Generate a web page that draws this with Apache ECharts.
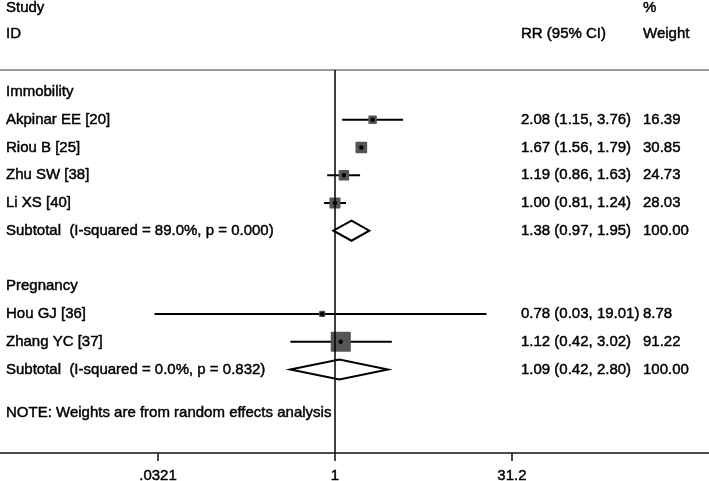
<!DOCTYPE html>
<html>
<head>
<meta charset="utf-8">
<script src="https://cdn.jsdelivr.net/npm/echarts@6/dist/echarts.min.js"></script>
<style>
  html, body { margin: 0; padding: 0; background: #fff; }
  #chart { width: 709px; height: 481px; }
</style>
</head>
<body>
<div id="chart"></div>
<script>
// 数据
const groups = ['Immobility', 'Pregnancy'];
const studies = ['Akpinar EE [20]', 'Riou B [25]', 'Zhu SW [38]', 'Li XS [40]', 'Hou GJ [36]', 'Zhang YC [37]'];
const studyGroup = [0, 0, 0, 0, 1, 1];
const rr = [2.08, 1.67, 1.19, 1.00, 0.78, 1.12];
const rrLow = [1.15, 1.56, 0.86, 0.81, 0.03, 0.42];
const rrHigh = [3.76, 1.79, 1.63, 1.24, 19.01, 3.02];
const weights = [16.39, 30.85, 24.73, 28.03, 8.78, 91.22];
const subRR = [1.38, 1.09];
const subLow = [0.97, 0.42];
const subHigh = [1.95, 2.80];
const subWeight = [100.00, 100.00];
const iSquared = ['89.0%', '0.0%'];
const pHet = ['0.000', '0.832'];
const tickValues = [0.0321, 1, 31.2];
const tickLabels = ['.0321', '1', '31.2'];

const FONT = '15px "Liberation Sans", Arial, sans-serif';
const f2 = v => v.toFixed(2);

// 组装行：组名、研究、小计、空行
const rows = [];
groups.forEach((g, gi) => {
  if (gi > 0) rows.push({ kind: 'blank' });
  rows.push({ kind: 'group', label: g });
  studies.forEach((s, i) => {
    if (studyGroup[i] !== gi) return;
    rows.push({ kind: 'study', label: s, est: rr[i], lo: rrLow[i], hi: rrHigh[i], w: weights[i] });
  });
  rows.push({
    kind: 'sub',
    label: 'Subtotal  (I-squared = ' + iSquared[gi] + ', p = ' + pHet[gi] + ')',
    est: subRR[gi], lo: subLow[gi], hi: subHigh[gi], w: subWeight[gi]
  });
});

function txt(text, x, y) {
  return {
    type: 'text',
    style: { text: text, x: x, y: y, font: FONT, fill: '#000', stroke: '#000', lineWidth: 0.45, verticalAlign: 'middle' }
  };
}

function renderRow(params, api) {
  const r = rows[params.dataIndex];
  const cs = params.coordSys;
  const y = api.coord([0, api.value(1)])[1];
  const children = [];
  if (r.kind === 'blank') return { type: 'group', children: [] };
  children.push(txt(r.label, cs.x + 6, y));
  if (r.kind === 'study') {
    const p0 = api.coord([Math.log(r.lo), api.value(1)]);
    const p1 = api.coord([Math.log(r.hi), api.value(1)]);
    const pc = api.coord([Math.log(r.est), api.value(1)]);
    const s = 2.1 * Math.sqrt(r.w);
    children.push({ type: 'line', shape: { x1: p0[0], y1: y, x2: p1[0], y2: y }, style: { stroke: '#000', lineWidth: 2 } });
    children.push({ type: 'rect', shape: { x: pc[0] - s / 2, y: y - s / 2, width: s, height: s, r: 1 }, style: { fill: '#555' } });
    children.push({ type: 'circle', shape: { cx: pc[0], cy: y, r: 2.2 }, style: { fill: '#000' } });
  }
  if (r.kind === 'sub') {
    const p0 = api.coord([Math.log(r.lo), api.value(1)]);
    const p1 = api.coord([Math.log(r.hi), api.value(1)]);
    const pc = api.coord([Math.log(r.est), api.value(1)]);
    const h = 10;
    children.push({
      type: 'polygon',
      shape: { points: [[p0[0], y], [pc[0], y - h], [p1[0], y], [pc[0], y + h]] },
      style: { fill: '#fff', stroke: '#000', lineWidth: 2 }
    });
  }
  if (r.kind === 'study' || r.kind === 'sub') {
    children.push(txt(f2(r.est) + ' (' + f2(r.lo) + ', ' + f2(r.hi) + ')', cs.x + 521, y));
    children.push(txt(f2(r.w), cs.x + 643, y));
  }
  return { type: 'group', children: children };
}

const chart = echarts.init(document.getElementById('chart'));
const option = {
  animation: false,
  grid: { left: 0, right: 0, top: 0, bottom: 28, outerBoundsMode: 'none' },
  xAxis: {
    type: 'value',
    min: -6.51,
    max: 7.27,
    splitLine: { show: false },
    axisLine: { onZero: false, lineStyle: { color: '#111', width: 1.5 } },
    axisTick: {
      customValues: tickValues.map(Math.log),
      length: 8,
      lineStyle: { color: '#111', width: 1.5 }
    },
    axisLabel: {
      customValues: tickValues.map(Math.log),
      formatter: v => {
        const i = tickValues.findIndex(t => Math.abs(Math.log(t) - v) < 1e-6);
        return i >= 0 ? tickLabels[i] : '';
      },
      fontFamily: '"Liberation Sans", Arial, sans-serif',
      fontSize: 15,
      color: '#000',
      textBorderColor: '#000',
      textBorderWidth: 0.45,
      margin: 15
    }
  },
  yAxis: { type: 'value', inverse: true, min: -3.315, max: 13.01, show: false },
  graphic: [
    { type: 'line', shape: { x1: 0, y1: 70, x2: 709, y2: 70 }, style: { stroke: '#999', lineWidth: 2 } },
    txt('Study', 6, 8),
    txt('ID', 6, 34),
    txt('RR (95% CI)', 521, 34),
    txt('%', 643, 8),
    txt('Weight', 643, 34),
    txt('NOTE: Weights are from random effects analysis', 6, 413)
  ],
  series: [{
    type: 'custom',
    renderItem: renderRow,
    data: rows.map((r, i) => [0, i]),
    encode: { x: 0, y: 1 },
    markLine: {
      silent: true,
      symbol: 'none',
      label: { show: false },
      lineStyle: { color: '#000', width: 1.5, type: 'solid' },
      data: [[{ coord: [0, -0.79] }, { coord: [0, 13.01] }]]
    }
  }]
};
chart.setOption(option);
</script>
</body>
</html>
